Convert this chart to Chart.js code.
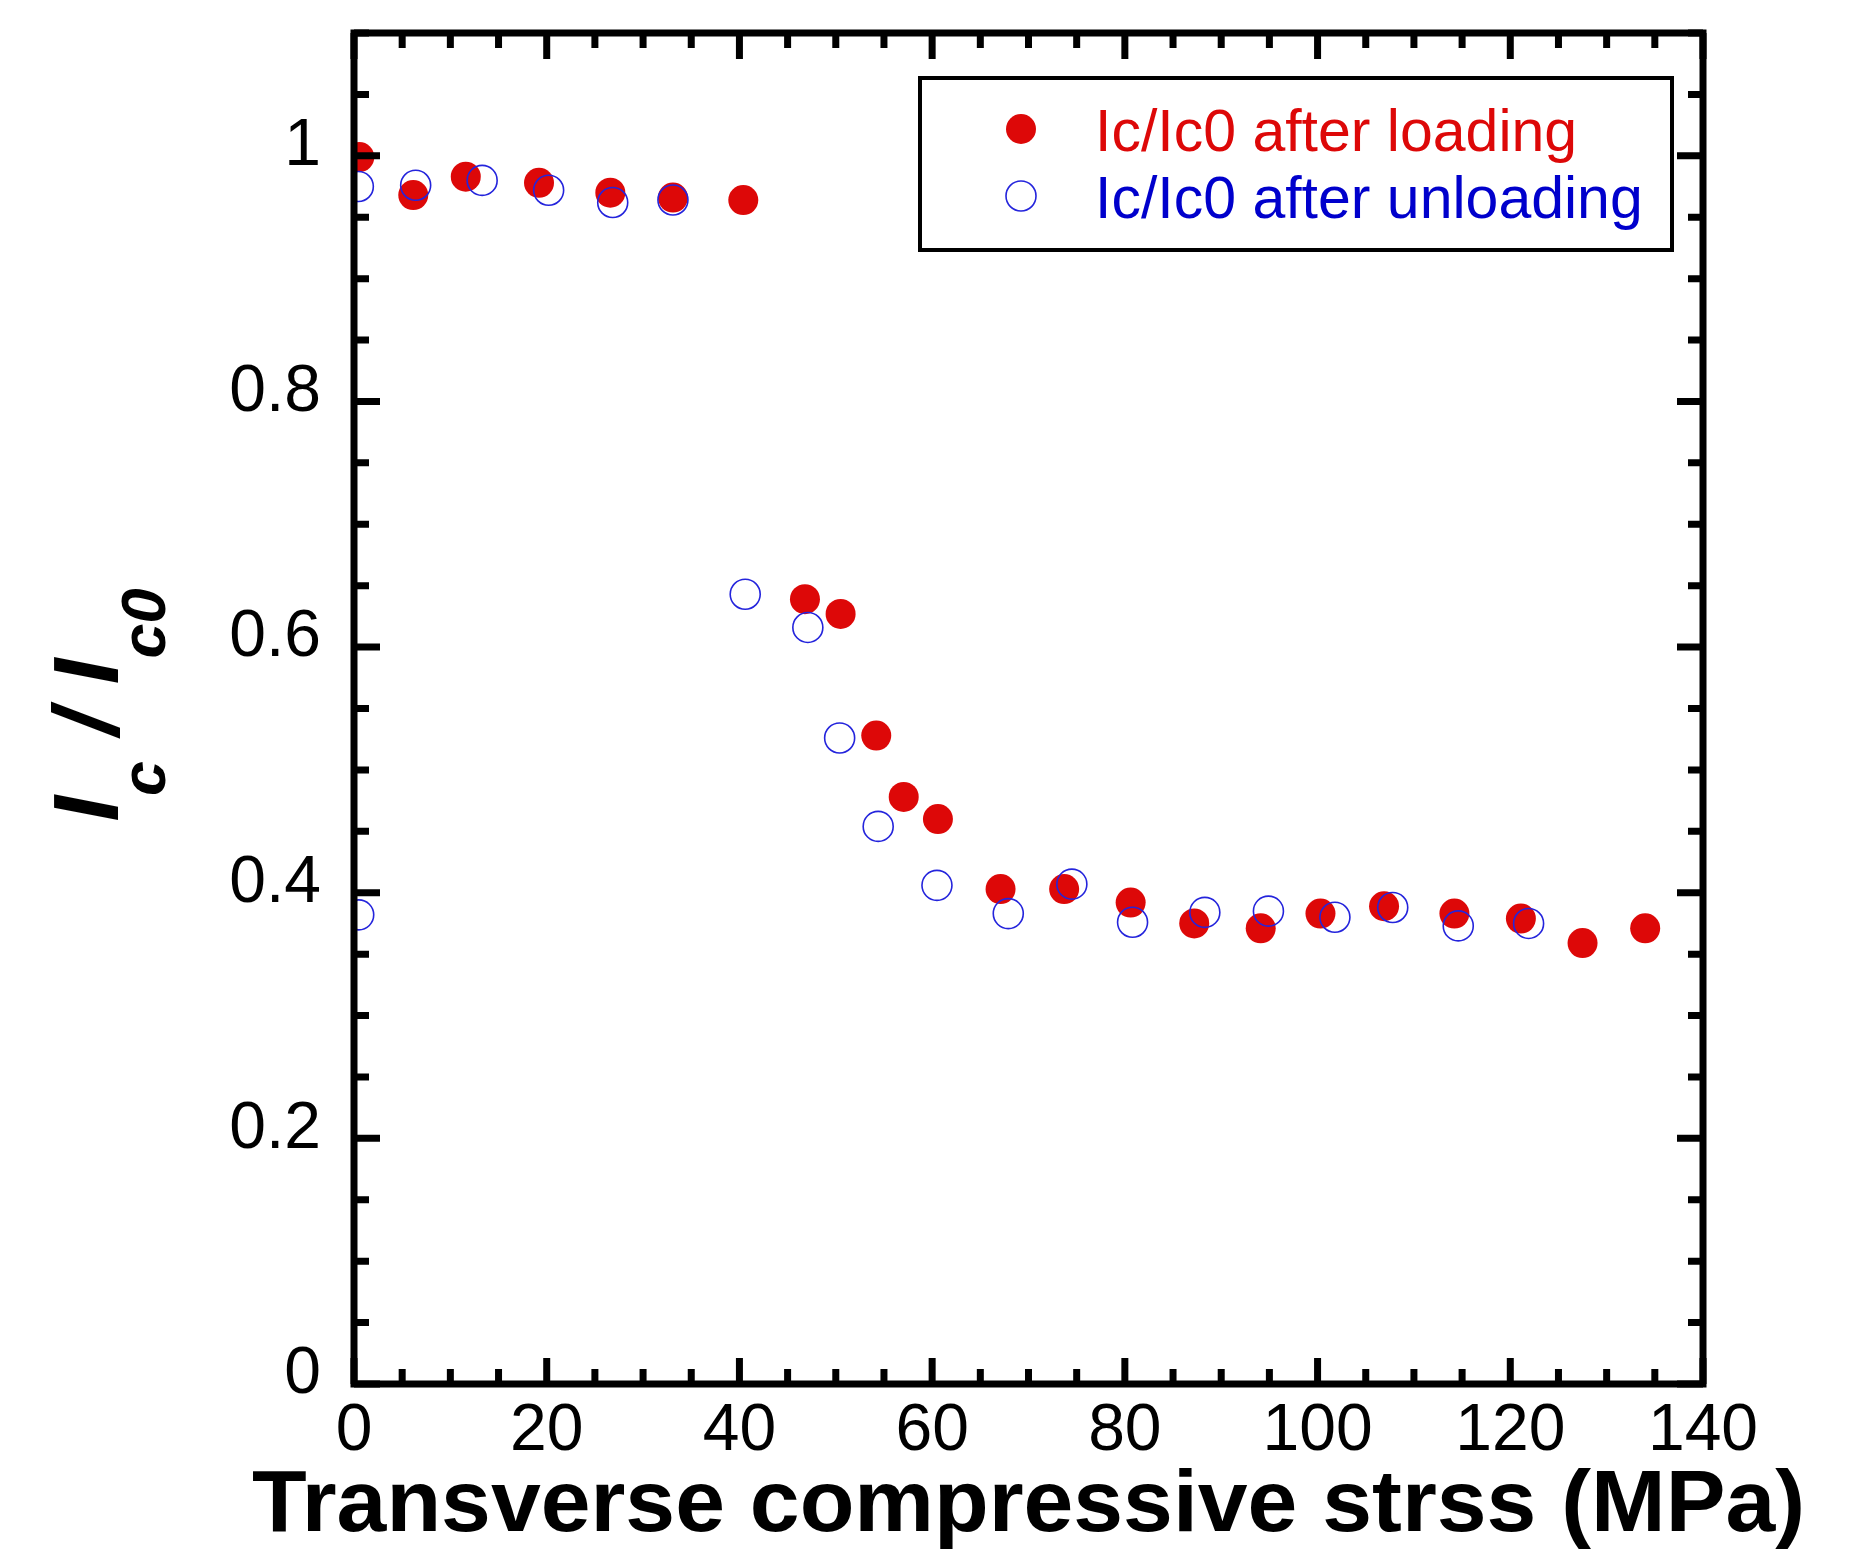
<!DOCTYPE html>
<html lang="en">
<head>
    <meta charset="UTF-8">
    <title>Ic/Ic0 vs transverse compressive stress</title>
    <script src="https://cdn.jsdelivr.net/npm/chart.js"></script>
    <style>
        html, body { margin: 0; padding: 0; background: #ffffff; }
        .chart-box { width: 1863px; height: 1558px; }
    </style>
</head>
<body>

<div class="chart-box">
    <canvas id="icChart"></canvas>
</div>

<script>
    // data
    const loadX = [0.55, 6.15, 11.6, 19.2, 26.6, 33.1, 40.4, 46.8, 50.5, 54.2, 57.05, 60.6, 67.1, 73.7, 80.6, 87.2, 94.1, 100.3, 106.9, 114.2, 121.1, 127.5, 134.0];
    const loadY = [0.999, 0.968, 0.983, 0.978, 0.970, 0.966, 0.964, 0.639, 0.627, 0.528, 0.478, 0.460, 0.403, 0.403, 0.392, 0.375, 0.371, 0.383, 0.389, 0.383, 0.379, 0.359, 0.371];
    const unloadX = [0.45, 0.49, 6.4, 13.3, 20.2, 26.85, 33.1, 40.6, 47.1, 50.4, 54.4, 60.5, 67.9, 74.5, 80.8, 88.3, 94.9, 101.8, 107.8, 114.6, 121.9];
    const unloadY = [0.975, 0.382, 0.976, 0.980, 0.972, 0.962, 0.964, 0.643, 0.616, 0.526, 0.454, 0.406, 0.383, 0.407, 0.376, 0.384, 0.385, 0.380, 0.388, 0.373, 0.375];

    const seriesLabels = ['Ic/Ic0 after loading', 'Ic/Ic0 after unloading'];
    const xTitle = 'Transverse compressive strss (MPa)';

    const RED = '#dd0808';
    const BLUE = '#0000cc';
    const FONT = "'Liberation Sans', Arial, Helvetica, sans-serif";

    function toPoints(xs, ys) {
        return xs.map((x, i) => ({ x: x, y: ys[i] }));
    }

    // frame with inward ticks on all four sides
    const frameTicks = {
        id: 'frameTicks',
        afterDraw(chart) {
            const ctx = chart.ctx;
            const a = chart.chartArea;
            const xs = chart.scales.x, ys = chart.scales.y;
            ctx.save();
            ctx.strokeStyle = '#000';
            ctx.lineWidth = 7;
            ctx.lineCap = 'butt';

            const minorLen = 15, majorLen = 26;
            for (let v = 0; v <= 140 + 1e-9; v += 5) {
                const px = xs.getPixelForValue(v);
                const len = (Math.round(v) % 20 === 0) ? majorLen : minorLen;
                ctx.beginPath();
                ctx.moveTo(px, a.bottom); ctx.lineTo(px, a.bottom - len);
                ctx.moveTo(px, a.top); ctx.lineTo(px, a.top + len);
                ctx.stroke();
            }
            for (let k = 0; k <= 22; k++) {
                const v = k * 0.05;
                const py = ys.getPixelForValue(v);
                const len = (k % 4 === 0) ? majorLen : minorLen;
                ctx.beginPath();
                ctx.moveTo(a.left, py); ctx.lineTo(a.left + len, py);
                ctx.moveTo(a.right, py); ctx.lineTo(a.right - len, py);
                ctx.stroke();
            }
            ctx.strokeRect(a.left, a.top, a.right - a.left, a.bottom - a.top);
            ctx.restore();
        }
    };

    // axis titles: x title (wide bold), y title I_c / I_c0 with subscripts
    const axisTitles = {
        id: 'axisTitles',
        afterDraw(chart) {
            const ctx = chart.ctx;
            const a = chart.chartArea;

            ctx.save();
            ctx.font = 'bold 87px ' + FONT;
            const w = ctx.measureText(xTitle).width;
            ctx.translate((a.left + a.right) / 2, 1507);
            ctx.scale(1553 / w, 1);
            ctx.fillStyle = '#000';
            ctx.textAlign = 'center';
            ctx.textBaseline = 'middle';
            ctx.fillText(xTitle, 0, 0);
            ctx.restore();

            const mainFont = 'italic bold 92px ' + FONT;
            const subFont = 'italic bold 63px ' + FONT;
            const parts = [
                { t: 'I', f: mainFont, dy: 0 },
                { t: 'c', f: subFont, dy: 47 },
                { t: ' / ', f: mainFont, dy: 0 },
                { t: 'I', f: mainFont, dy: 0 },
                { t: 'c0', f: subFont, dy: 47 }
            ];
            ctx.save();
            let total = 0;
            parts.forEach(p => { ctx.font = p.f; p.w = ctx.measureText(p.t).width; total += p.w; });
            ctx.translate(118, 705);
            ctx.rotate(-Math.PI / 2);
            ctx.fillStyle = '#000';
            ctx.textBaseline = 'alphabetic';
            let x = -total / 2;
            parts.forEach(p => {
                ctx.font = p.f;
                ctx.fillText(p.t, x, p.dy);
                x += p.w;
            });
            ctx.restore();
        }
    };

    // boxed legend inside the plot
    const boxLegend = {
        id: 'boxLegend',
        afterDraw(chart) {
            const ctx = chart.ctx;
            ctx.save();
            ctx.lineWidth = 4;
            ctx.strokeStyle = '#000';
            ctx.strokeRect(920, 78, 752, 172);
            const rows = [129, 196];
            chart.data.datasets.forEach((ds) => {
                const cy = rows[ds.legendRow];
                ctx.beginPath();
                ctx.arc(1021, cy, 15, 0, Math.PI * 2);
                if (ds.legendRow === 0) {
                    ctx.fillStyle = ds.backgroundColor;
                    ctx.fill();
                } else {
                    ctx.lineWidth = ds.borderWidth;
                    ctx.strokeStyle = ds.borderColor;
                    ctx.stroke();
                }
                ctx.font = '59px ' + FONT;
                ctx.fillStyle = ds.textColor;
                ctx.textBaseline = 'alphabetic';
                ctx.fillText(ds.label, 1095, cy + 22);
            });
            ctx.restore();
        }
    };

    const ctx = document.getElementById('icChart').getContext('2d');
    new Chart(ctx, {
        type: 'scatter',
        data: {
            datasets: [
                {
                    label: seriesLabels[1],
                    data: toPoints(unloadX, unloadY),
                    backgroundColor: 'rgba(0,0,0,0)',
                    borderColor: '#2424dc',
                    borderWidth: 1.6,
                    pointRadius: 15,
                    pointHoverRadius: 15,
                    order: 0,
                    legendRow: 1,
                    textColor: BLUE
                },
                {
                    label: seriesLabels[0],
                    data: toPoints(loadX, loadY),
                    backgroundColor: RED,
                    borderColor: RED,
                    borderWidth: 0,
                    pointRadius: 15,
                    pointHoverRadius: 15,
                    order: 1,
                    legendRow: 0,
                    textColor: RED
                }
            ]
        },
        options: {
            responsive: true,
            maintainAspectRatio: false,
            animation: false,
            layout: { padding: { top: 33, right: 160, bottom: 0, left: 0 } },
            plugins: {
                legend: { display: false },
                tooltip: { enabled: false }
            },
            scales: {
                x: {
                    type: 'linear',
                    min: 0,
                    max: 140,
                    grid: { display: false, drawTicks: false },
                    border: { display: false },
                    ticks: {
                        stepSize: 20,
                        maxRotation: 0,
                        padding: 8,
                        color: '#000',
                        font: { family: FONT, size: 66 }
                    },
                    afterFit(scale) {
                        scale.height = 174;
                        scale.paddingLeft = 0;
                        scale.paddingRight = 0;
                    }
                },
                y: {
                    type: 'linear',
                    min: 0,
                    max: 1.1,
                    grid: { display: false, drawTicks: false },
                    border: { display: false },
                    ticks: {
                        stepSize: 0.2,
                        includeBounds: false,
                        padding: 33,
                        labelOffset: -9,
                        color: '#000',
                        font: { family: FONT, size: 66 },
                        callback: (v) => String(Number(v.toFixed(2)))
                    },
                    afterFit(scale) {
                        scale.width = 354;
                        scale.paddingTop = 0;
                        scale.paddingBottom = 0;
                    }
                }
            }
        },
        plugins: [frameTicks, axisTitles, boxLegend]
    });
</script>

</body>
</html>
